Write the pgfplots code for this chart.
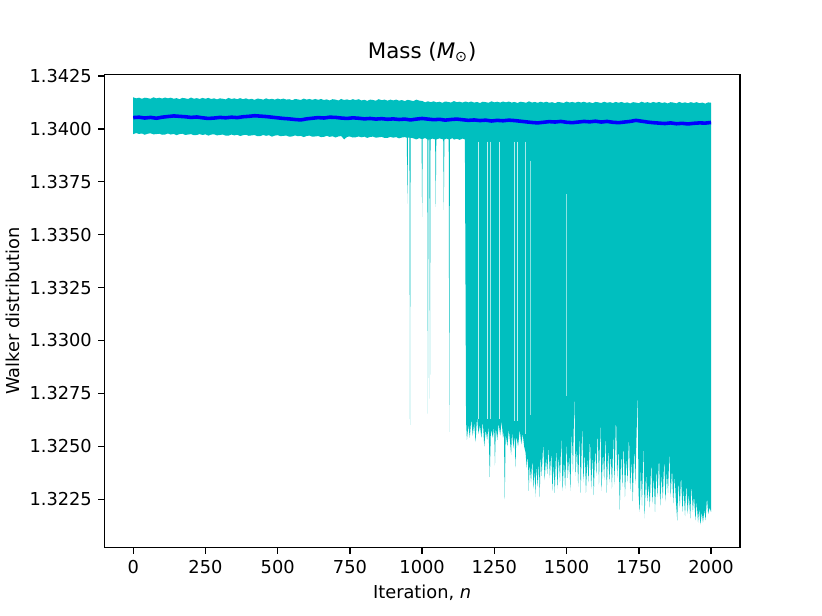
\documentclass[border=0pt]{standalone}
\usepackage{pgfplots}
\pgfplotsset{compat=1.18}
\usepgfplotslibrary{fillbetween}
\usepackage{fontspec}
\setmainfont{DejaVu Sans}
\definecolor{mplc}{RGB}{0,191,191}
\definecolor{mplb}{RGB}{0,0,255}
\begin{document}
\begin{tikzpicture}
\begin{axis}[
  at={(0,0)}, anchor=south west,
  scale only axis, width=357.1pt, height=265.9pt,
  xmin=-100, xmax=2100, ymin=1.32022, ymax=1.34258,
  axis line style={line width=0.8pt},
  tick align=outside, tick pos=left,
  major tick length=3.5pt,
  every tick/.style={black, line width=0.8pt},
  xtick={0,250,...,2000},
  ytick={1.3225,1.325,1.3275,1.33,1.3325,1.335,1.3375,1.34,1.3425},
  scaled y ticks=false, scaled x ticks=false,
  /pgf/number format/assume math mode=true,
  x tick label style={/pgf/number format/1000 sep={}, font=\fontsize{10}{12}\selectfont},
  y tick label style={/pgf/number format/.cd, fixed, fixed zerofill, precision=4, /tikz/.cd, font=\fontsize{10}{12}\selectfont},
  xlabel={Iteration, \textit{n}},
  ylabel={Walker distribution},
  xlabel style={at={(axis description cs:0.5,0)}, anchor=base, yshift=-28.5pt, font=\fontsize{10}{12}\selectfont},
  ylabel style={at={(axis description cs:-0.144,0.5)}, anchor=center, font=\fontsize{10}{12}\selectfont},
  title={Mass (\textit{M}\textsubscript{⊙})},
  title style={at={(axis description cs:0.5,1)}, anchor=base, yshift=3pt, font=\fontsize{12}{14}\selectfont},
  clip=true,
]
\addplot[name path=U, draw=none] table {
0 1.34149
10 1.34144
20 1.34147
30 1.34142
40 1.34147
50 1.34145
60 1.34142
70 1.34149
80 1.34144
90 1.34147
100 1.34143
110 1.34148
120 1.34144
130 1.34147
140 1.34142
150 1.34145
160 1.34140
170 1.34146
180 1.34144
190 1.34141
200 1.34148
210 1.34142
220 1.34145
230 1.34141
240 1.34146
250 1.34142
260 1.34146
270 1.34141
280 1.34144
290 1.34139
300 1.34144
310 1.34142
320 1.34139
330 1.34146
340 1.34141
350 1.34144
360 1.34140
370 1.34145
380 1.34140
390 1.34144
400 1.34139
410 1.34142
420 1.34137
430 1.34143
440 1.34141
450 1.34138
460 1.34144
470 1.34139
480 1.34142
490 1.34138
500 1.34143
510 1.34139
520 1.34143
530 1.34138
540 1.34140
550 1.34135
560 1.34141
570 1.34139
580 1.34136
590 1.34143
600 1.34138
610 1.34141
620 1.34137
630 1.34141
640 1.34137
650 1.34141
660 1.34136
670 1.34139
680 1.34134
690 1.34140
700 1.34138
710 1.34134
720 1.34141
730 1.34136
740 1.34139
750 1.34135
760 1.34140
770 1.34136
780 1.34140
790 1.34134
800 1.34137
810 1.34132
820 1.34138
830 1.34136
840 1.34133
850 1.34140
860 1.34135
870 1.34138
880 1.34133
890 1.34138
900 1.34134
910 1.34138
920 1.34133
930 1.34136
940 1.34131
950 1.34137
960 1.34134
970 1.34131
980 1.34138
990 1.34133
1000 1.34132
1010 1.34125
1020 1.34130
1030 1.34126
1040 1.34130
1050 1.34125
1060 1.34128
1070 1.34123
1080 1.34129
1090 1.34127
1100 1.34124
1110 1.34131
1120 1.34126
1130 1.34128
1140 1.34124
1150 1.34129
1160 1.34125
1170 1.34129
1180 1.34124
1190 1.34127
1200 1.34122
1210 1.34128
1220 1.34126
1230 1.34123
1240 1.34130
1250 1.34125
1260 1.34128
1270 1.34124
1280 1.34129
1290 1.34125
1300 1.34129
1310 1.34124
1320 1.34127
1330 1.34122
1340 1.34128
1350 1.34126
1360 1.34123
1370 1.34130
1380 1.34124
1390 1.34127
1400 1.34123
1410 1.34128
1420 1.34124
1430 1.34128
1440 1.34123
1450 1.34126
1460 1.34121
1470 1.34127
1480 1.34125
1490 1.34122
1500 1.34129
1510 1.34124
1520 1.34127
1530 1.34123
1540 1.34128
1550 1.34124
1560 1.34128
1570 1.34123
1580 1.34126
1590 1.34121
1600 1.34127
1610 1.34125
1620 1.34122
1630 1.34128
1640 1.34123
1650 1.34126
1660 1.34122
1670 1.34127
1680 1.34123
1690 1.34127
1700 1.34122
1710 1.34125
1720 1.34120
1730 1.34126
1740 1.34124
1750 1.34121
1760 1.34128
1770 1.34123
1780 1.34126
1790 1.34122
1800 1.34127
1810 1.34123
1820 1.34127
1830 1.34122
1840 1.34125
1850 1.34120
1860 1.34126
1870 1.34124
1880 1.34120
1890 1.34127
1900 1.34122
1910 1.34125
1920 1.34121
1930 1.34126
1940 1.34122
1950 1.34126
1960 1.34121
1970 1.34124
1980 1.34119
1990 1.34125
2000 1.34123
};
\addplot[name path=L, draw=none] table {
0 1.33975
10 1.33980
20 1.33976
30 1.33978
40 1.33972
50 1.33977
60 1.33979
70 1.33974
80 1.33975
90 1.33977
100 1.33972
110 1.33973
120 1.33978
130 1.33973
140 1.33976
150 1.33970
160 1.33975
170 1.33977
180 1.33971
190 1.33973
200 1.33975
210 1.33970
220 1.33971
230 1.33975
240 1.33971
250 1.33974
260 1.33968
270 1.33973
280 1.33974
290 1.33969
300 1.33971
310 1.33973
320 1.33968
330 1.33968
340 1.33973
350 1.33969
360 1.33972
370 1.33966
380 1.33970
390 1.33972
400 1.33967
410 1.33969
420 1.33971
430 1.33965
440 1.33966
450 1.33971
460 1.33967
470 1.33970
480 1.33963
490 1.33968
500 1.33970
510 1.33965
520 1.33967
530 1.33968
540 1.33963
550 1.33964
560 1.33969
570 1.33965
580 1.33967
590 1.33961
600 1.33966
610 1.33968
620 1.33963
630 1.33964
640 1.33966
650 1.33961
660 1.33962
670 1.33967
680 1.33962
690 1.33965
700 1.33959
710 1.33964
720 1.33966
730 1.33950
740 1.33962
750 1.33964
760 1.33959
770 1.33960
780 1.33964
790 1.33960
800 1.33963
810 1.33957
820 1.33962
830 1.33963
840 1.33958
850 1.33960
860 1.33962
870 1.33957
880 1.33957
890 1.33962
900 1.33958
910 1.33961
920 1.33955
930 1.33959
940 1.33961
947 1.33958
949 1.33647
951 1.33958
956 1.33958
958 1.32601
960 1.33958
970 1.33955
980 1.33950
990 1.33956
998 1.33952
1000 1.33584
1002 1.33952
1010 1.33957
1018 1.33950
1020 1.32654
1022 1.33950
1025 1.33950
1027 1.32725
1029 1.33950
1035 1.33954
1045 1.33950
1047 1.33631
1049 1.33950
1060 1.33955
1073 1.33950
1075 1.33617
1077 1.33950
1085 1.33954
1092 1.33950
1094 1.32568
1096 1.33950
1105 1.33956
1110 1.33949
1120 1.33953
1130 1.33948
1140 1.33954
1148 1.33950
1152 1.3262
1155 1.3253
1160 1.3260
1165 1.3254
1170 1.3263
1175 1.3255
1180 1.3261
1185 1.3252
1190 1.3264
1195 1.3256
1200 1.3260
1205 1.3254
1210 1.3262
1215 1.3250
1220 1.3258
1225 1.3253
1230 1.3260
1234 1.32355
1238 1.3258
1245 1.3254
1249 1.3260
1252 1.3241
1255 1.3259
1260 1.3253
1265 1.3261
1270 1.3255
1275 1.3262
1280 1.3254
1283 1.3258
1286 1.3225
1289 1.3256
1295 1.3250
1300 1.3258
1305 1.3251
1308 1.3246
1311 1.3257
1316 1.3249
1320 1.3256
1323 1.3240
1326 1.3255
1332 1.3250
1338 1.3258
1343 1.3251
1348 1.3256
1353 1.3250
1358 1.3247
1362 1.3240
1366 1.3246
1369 1.3229
1372 1.3242
1377 1.3233
1381 1.3244
1386 1.3230
1390 1.3240
1392 1.3226
1395 1.3241
1400 1.3231
1404 1.3243
1407 1.3226
1410 1.3246
1414 1.3236
1419 1.3252
1424 1.3234
1429 1.3245
1433 1.3237
1438 1.3250
1442 1.3235
1447 1.3248
1451 1.3229
1455 1.3242
1459 1.3228
1464 1.3250
1468 1.3230
1473 1.3246
1477 1.3233
1482 1.3255
1486 1.3229
1491 1.3244
1495 1.3230
1500 1.3252
1504 1.3235
1509 1.3246
1513 1.3229
1518 1.3258
1522 1.3238
1527 1.3275
1531 1.3236
1536 1.3250
1540 1.3231
1545 1.3256
1549 1.3228
1554 1.3262
1558 1.3233
1563 1.3248
1567 1.3228
1572 1.3245
1576 1.3233
1581 1.3255
1585 1.3230
1590 1.3246
1594 1.3227
1599 1.3250
1603 1.3236
1608 1.3258
1612 1.3232
1617 1.3262
1621 1.3229
1626 1.3248
1630 1.3234
1635 1.3256
1639 1.3228
1644 1.3250
1648 1.3233
1653 1.3247
1657 1.3230
1662 1.3256
1666 1.3232
1671 1.3266
1675 1.3235
1680 1.3250
1684 1.3220
1689 1.3248
1693 1.3231
1698 1.3252
1702 1.3226
1707 1.3245
1711 1.3233
1716 1.3256
1720 1.3229
1725 1.3244
1729 1.3224
1734 1.3250
1738 1.3232
1743 1.3260
1746 1.3276
1749 1.3228
1753 1.3219
1757 1.3240
1761 1.3222
1766 1.3252
1770 1.3216
1775 1.3238
1779 1.3224
1784 1.3232
1788 1.3221
1793 1.3244
1797 1.3223
1802 1.3236
1806 1.3219
1811 1.3240
1815 1.3226
1820 1.3246
1824 1.3222
1829 1.3237
1833 1.3225
1838 1.3245
1842 1.3224
1847 1.3238
1851 1.3228
1856 1.3248
1860 1.3226
1865 1.3240
1869 1.3223
1874 1.3236
1878 1.3225
1883 1.3215
1887 1.3234
1892 1.3221
1896 1.3237
1901 1.3219
1905 1.3230
1910 1.3217
1914 1.3233
1919 1.3218
1923 1.3228
1928 1.3216
1932 1.3232
1937 1.3219
1941 1.3227
1946 1.3215
1950 1.3224
1955 1.3214
1959 1.3221
1963 1.3213
1968 1.3219
1972 1.3214
1977 1.3220
1981 1.3215
1986 1.3226
1990 1.3218
1995 1.3221
2000 1.3219
};
\addplot[fill=mplc, draw=none] fill between[of=U and L];
% lighter (partly transparent) walker streaks
\addplot[mplc!25!white, line width=0.45pt] coordinates {(1193,1.3394) (1193,1.3263)};
\addplot[mplc!25!white, line width=0.45pt] coordinates {(1225,1.3394) (1225,1.3263)};
\addplot[mplc!35!white, line width=0.45pt] coordinates {(1237,1.3394) (1237,1.3263)};
\addplot[mplc!25!white, line width=0.45pt] coordinates {(1268,1.3394) (1268,1.3263)};
\addplot[mplc!30!white, line width=0.45pt] coordinates {(1320,1.3394) (1320,1.3262)};
\addplot[mplc!25!white, line width=0.45pt] coordinates {(1331,1.3394) (1331,1.3262)};
\addplot[mplc!35!white, line width=0.45pt] coordinates {(1358,1.3394) (1358,1.3256)};
\addplot[mplc!45!white, line width=0.45pt] coordinates {(1375,1.3385) (1375,1.3265)};
\addplot[mplc!45!white, line width=0.45pt] coordinates {(1498,1.3369) (1498,1.3274)};
\addplot[mplb, line width=2pt, line join=round] table {
0 1.34053
20 1.34055
40 1.34051
60 1.34054
80 1.34050
100 1.34055
120 1.34058
140 1.34061
160 1.34059
180 1.34057
200 1.34054
220 1.34056
240 1.34052
260 1.34049
280 1.34051
300 1.34054
320 1.34052
340 1.34055
360 1.34053
380 1.34057
400 1.34059
420 1.34062
440 1.34060
460 1.34058
480 1.34055
500 1.34052
520 1.34049
540 1.34047
560 1.34044
580 1.34042
600 1.34047
620 1.34050
640 1.34053
660 1.34051
680 1.34055
700 1.34054
720 1.34051
740 1.34049
760 1.34052
780 1.34050
800 1.34047
820 1.34049
840 1.34046
860 1.34048
880 1.34045
900 1.34047
920 1.34044
940 1.34046
960 1.34042
980 1.34046
1000 1.34049
1020 1.34046
1040 1.34043
1060 1.34045
1080 1.34041
1100 1.34044
1120 1.34046
1140 1.34043
1160 1.34040
1180 1.34042
1200 1.34039
1220 1.34041
1240 1.34037
1260 1.34040
1280 1.34038
1300 1.34041
1320 1.34039
1340 1.34036
1360 1.34033
1380 1.34030
1400 1.34028
1420 1.34031
1440 1.34034
1460 1.34032
1480 1.34035
1500 1.34031
1520 1.34029
1540 1.34032
1560 1.34035
1580 1.34033
1600 1.34036
1620 1.34032
1640 1.34035
1660 1.34031
1680 1.34029
1700 1.34032
1720 1.34035
1740 1.34040
1760 1.34036
1780 1.34032
1800 1.34029
1820 1.34027
1840 1.34025
1860 1.34028
1880 1.34024
1900 1.34026
1920 1.34023
1940 1.34026
1960 1.34028
1980 1.34027
2000 1.34030
};
\end{axis}
\path[use as bounding box] (-57.6pt,-38.0pt) rectangle (403.2pt,307.6pt);
\end{tikzpicture}
\end{document}
